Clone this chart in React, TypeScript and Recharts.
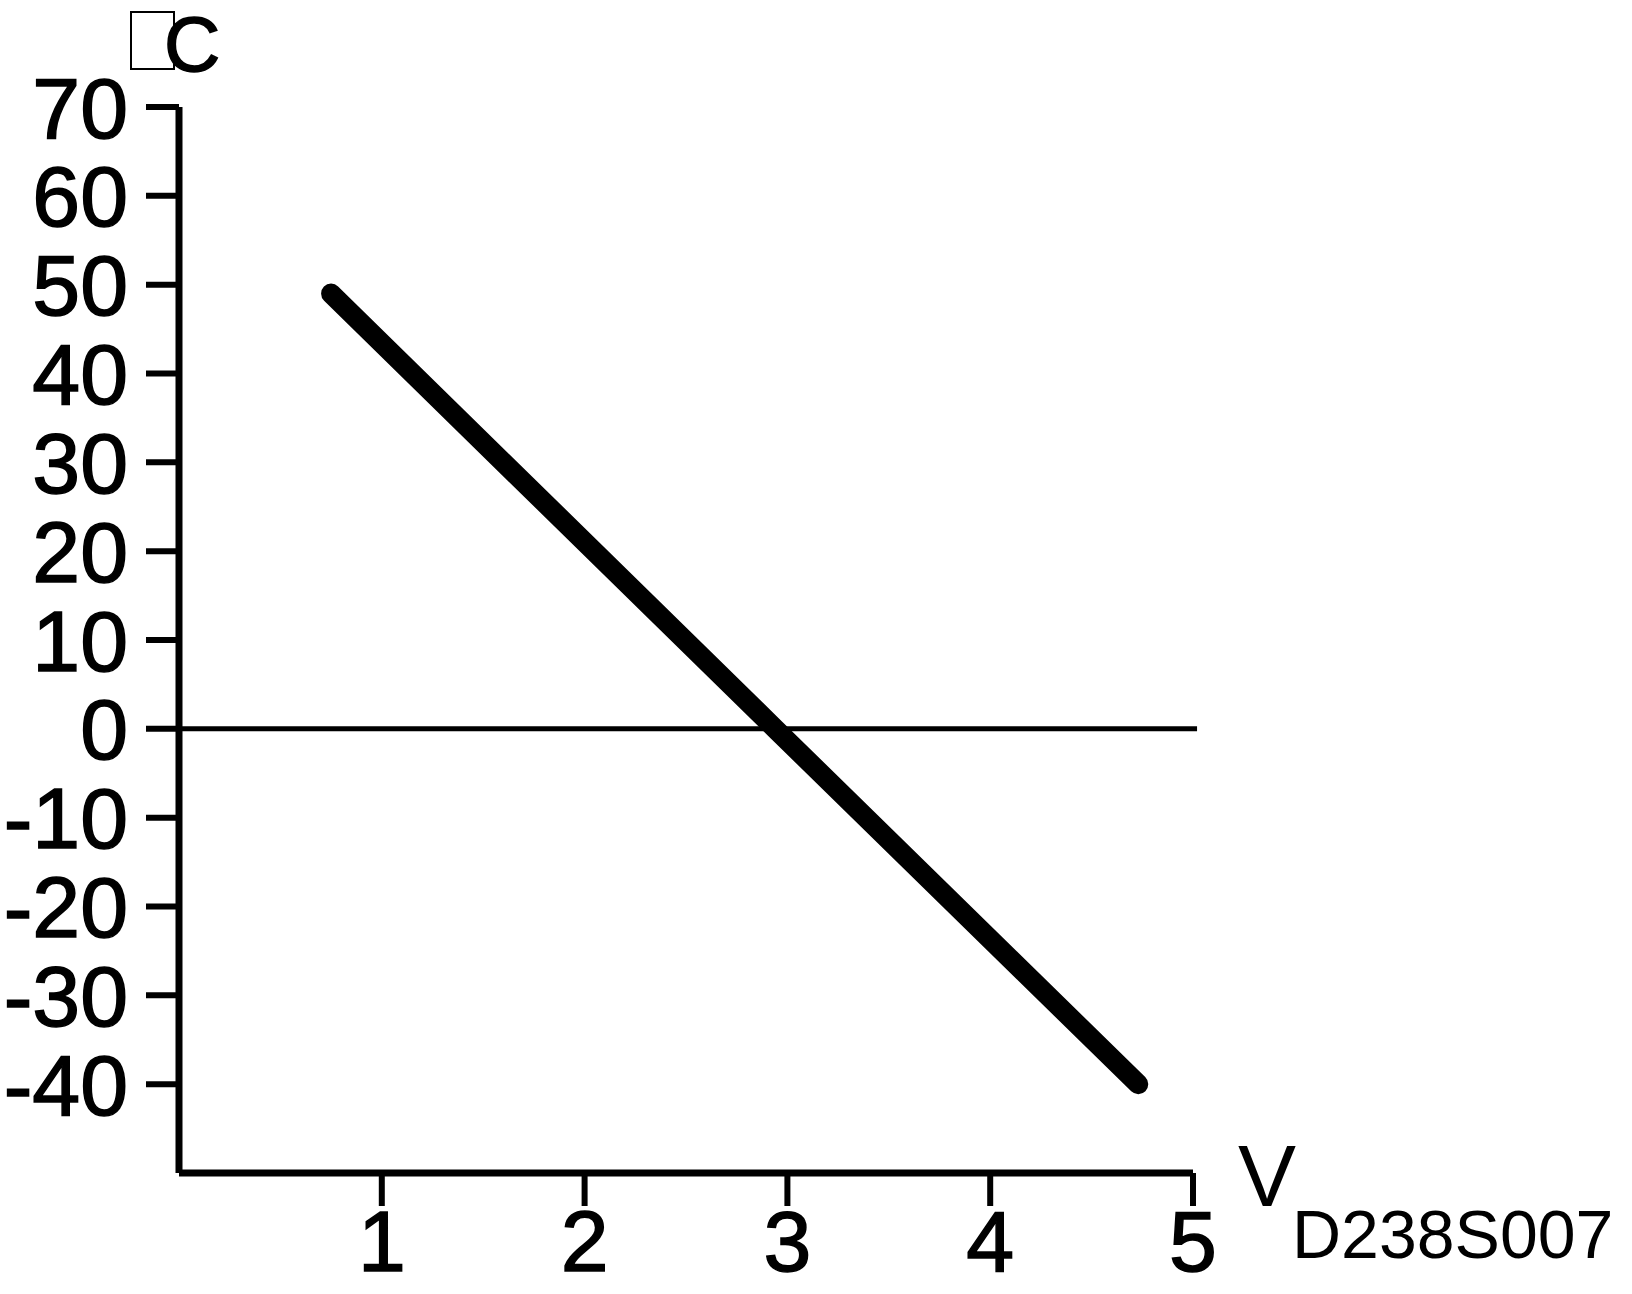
import { LineChart, Line, XAxis, YAxis, ReferenceLine } from 'recharts';

// sensor voltage (V) vs temperature (°C)
const voltage = [0.75, 2.94, 4.73];
const temperature = [49, 0, -40];
const xTicks = [1, 2, 3, 4, 5];
const yTicks = [-40, -30, -20, -10, 0, 10, 20, 30, 40, 50, 60, 70];

const data = voltage.map((v, i) => ({ v, t: temperature[i] }));

const FONT = '"Liberation Sans", Arial, Helvetica, sans-serif';

export default function App() {
  const tickStyle = { fill: '#000', stroke: '#000', strokeWidth: 1.5, fontSize: 86, fontFamily: FONT };

  return (
    <div style={{ position: 'absolute', left: 0, top: 0, width: 1632, height: 1294, background: '#fff' }}>
      <LineChart width={1632} height={1294} data={data} margin={{ top: 107, right: 439, bottom: 0, left: 0 }}>
        <XAxis
          type="number"
          dataKey="v"
          domain={[0, 5]}
          ticks={xTicks}
          interval={0}
          allowDataOverflow
          height={121}
          axisLine={{ stroke: '#000', strokeWidth: 7 }}
          tickLine={{ stroke: '#000', strokeWidth: 6 }}
          tickSize={33}
          tickMargin={4}
          tick={tickStyle}
        />
        <YAxis
          type="number"
          domain={[-50, 70]}
          ticks={yTicks}
          interval={0}
          allowDataOverflow
          width={179}
          axisLine={{ stroke: '#000', strokeWidth: 7 }}
          tickLine={{ stroke: '#000', strokeWidth: 6 }}
          tickSize={33}
          tickMargin={18}
          tick={tickStyle}
        />
        <ReferenceLine
          segment={[{ x: 0, y: 0 }, { x: 5.02, y: 0 }]}
          ifOverflow="visible"
          stroke="#000"
          strokeWidth={5}
        />
        <Line
          type="linear"
          dataKey="t"
          stroke="#000"
          strokeWidth={20}
          strokeLinecap="round"
          dot={false}
          isAnimationActive={false}
        />
      </LineChart>

      {/* unit labels */}
      <svg width={1632} height={1294} style={{ position: 'absolute', left: 0, top: 0, pointerEvents: 'none' }}>
        <rect x={131} y={12} width={43} height={57} fill="none" stroke="#000" strokeWidth={2} />
        <text x={164} y={71} fontSize={78} fontFamily={FONT} fill="#000" stroke="#000" strokeWidth={1.5}>C</text>
        <text x={1238} y={1206} fontSize={87} fontFamily={FONT} fill="#000">V</text>
        <text x={1292} y={1258} fontSize={68} fontFamily={FONT} fill="#000">
          D238S007
        </text>
      </svg>
    </div>
  );
}
